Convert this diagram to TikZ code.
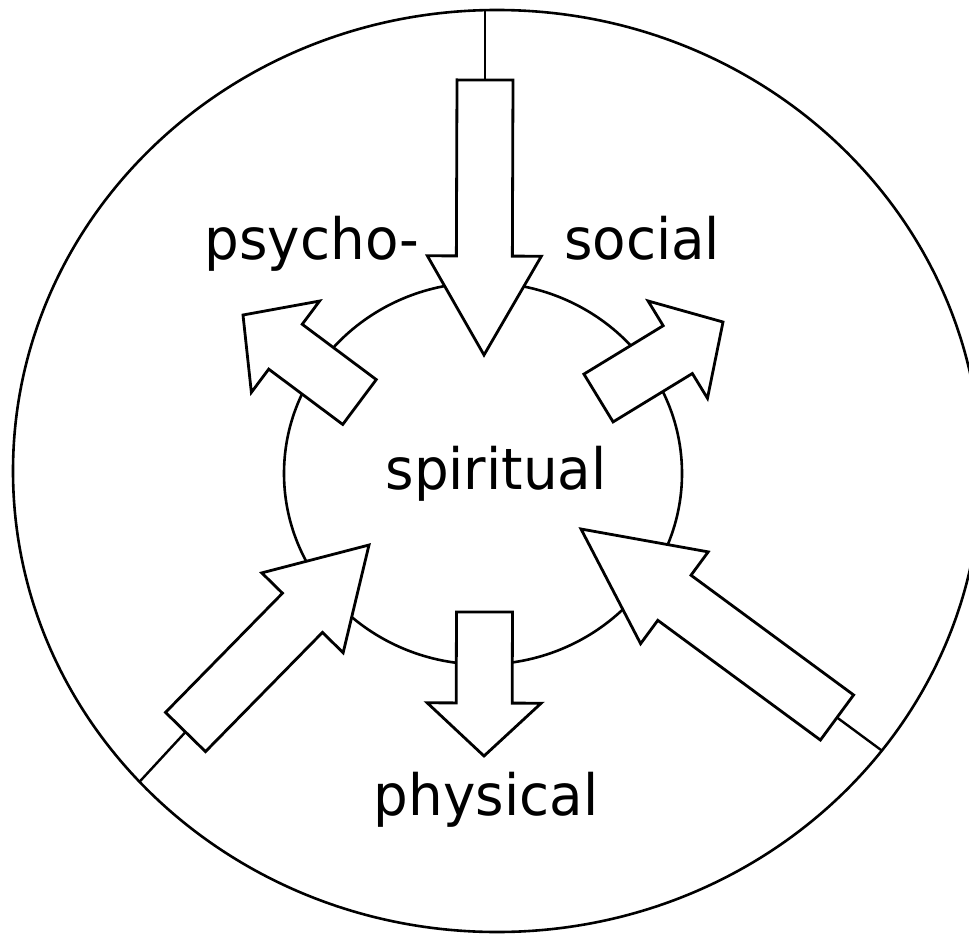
\documentclass[tikz,border=0pt]{standalone}
\usepackage{fontspec}
\setmainfont[FakeStretch=0.96]{DejaVu Sans}
\usetikzlibrary{shapes.geometric, calc}
\tikzset{
    ring/.style={ellipse, draw=black, line width=2.6pt, inner sep=0pt, outer sep=0pt},
    word/.style={anchor=base, inner sep=0pt, font=\fontsize{57}{68}\selectfont},
    fatbody/.style={draw=black, fill=white, line width=2.8pt, line join=miter},
    link/.style={draw=black, line width=2.4pt}
}
\newcommand{\fatarrow}[3]{%
    \coordinate (hb) at ($(#2)!#3!(#1)$);
    \draw [fatbody] ($(#1)!28pt!90:(#2)$) -- ($(hb)!28pt!90:(#2)$) -- ($(hb)!57pt!90:(#2)$) -- (#2)
        -- ($(hb)!57pt!-90:(#2)$) -- ($(hb)!28pt!-90:(#2)$) -- ($(#1)!28pt!-90:(#2)$) -- cycle;
}

\begin{document}
\begin{tikzpicture}[x=1pt, y=-1pt]
    \useasboundingbox (0,0) rectangle (969,936);
    \node (outer) [ring, minimum width=968pt, minimum height=922pt] at (497,471) {};
    \node (inner) [ring, minimum width=398pt, minimum height=382pt] at (483,473.5) {};

    \node (psycho) [word] at (312,259) {psycho-};
    \node (social) [word] at (642,259) {social};
    \node (spirit) [word] at (496,489) {spiritual};
    \node (physical) [word] at (486,815) {physical};

    \coordinate (tp-tail) at (485,80);
    \coordinate (tp-tip) at (484,355);
    \coordinate (ul-tail) at (359.5,402);
    \coordinate (ul-tip) at (243,315);
    \coordinate (ur-tail) at (598.5,398);
    \coordinate (ur-tip) at (723,322);
    \coordinate (ll-tail) at (185.5,732);
    \coordinate (ll-tip) at (369,545);
    \coordinate (lr-tail) at (837,717.5);
    \coordinate (lr-tip) at (581,529);
    \coordinate (bt-tail) at (484.5,612);
    \coordinate (bt-tip) at (484,756);

    \draw [link] (tp-tail) -- (tp-tail |- outer.north);
    \draw [link] (ll-tail) -- (outer.221);
    \draw [link] (lr-tail) -- (outer.324);

    \fatarrow{tp-tail}{tp-tip}{99pt}
    \fatarrow{ul-tail}{ul-tip}{53pt}
    \fatarrow{ur-tail}{ur-tip}{53pt}
    \fatarrow{ll-tail}{ll-tip}{95pt}
    \fatarrow{lr-tail}{lr-tip}{116pt}
    \fatarrow{bt-tail}{bt-tip}{53pt}
\end{tikzpicture}
\end{document}
